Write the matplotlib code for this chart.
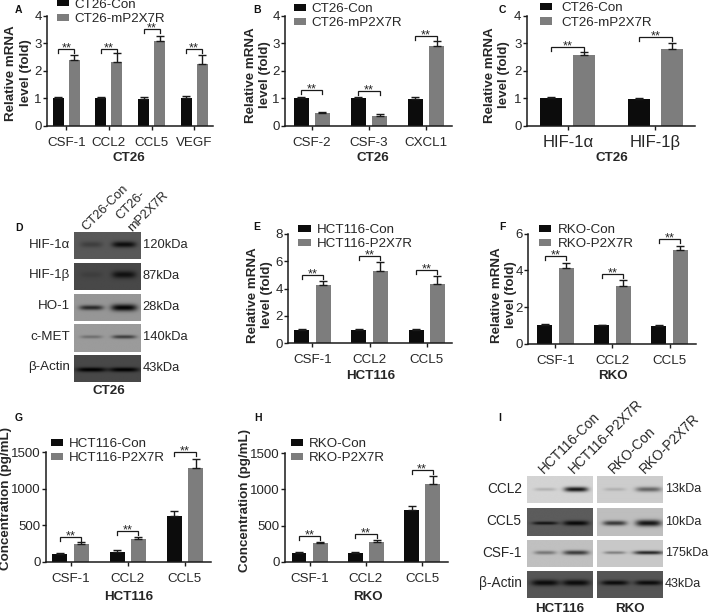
import numpy as np
import matplotlib
matplotlib.use("Agg")
import matplotlib.pyplot as plt

plt.rcParams['font.family'] = ['Liberation Sans', 'DejaVu Sans']
W, H = 709, 614
TXT = '#262626'
BLACK = '#0c0c0c'
GRAY = '#7d7d7d'

# ---- data ----
a_cats = ['CSF-1', 'CCL2', 'CCL5', 'VEGF']
a_con = [1.0, 1.0, 0.98, 1.0]
a_con_top = [1.05, 1.05, 1.03, 1.09]
a_trt = [2.38, 2.32, 3.1, 2.25]
a_trt_top = [2.58, 2.65, 3.28, 2.58]
a_brk = [2.79, 2.79, 3.51, 2.79]

b_cats = ['CSF-2', 'CSF-3', 'CXCL1']
b_con = [1.0, 1.0, 0.98]
b_con_top = [1.06, 1.06, 1.03]
b_trt = [0.45, 0.37, 2.9]
b_trt_top = [0.5, 0.41, 3.08]
b_brk = [1.29, 1.27, 3.26]

c_cats = ['HIF-1α', 'HIF-1β']
c_con = [1.0, 0.98]
c_con_top = [1.04, 1.02]
c_trt = [2.57, 2.8]
c_trt_top = [2.68, 3.02]
c_brk = [2.86, 3.23]

e_cats = ['CSF-1', 'CCL2', 'CCL5']
e_con = [1.0, 1.0, 0.98]
e_con_top = [1.06, 1.06, 1.03]
e_trt = [4.25, 5.3, 4.3]
e_trt_top = [4.55, 5.9, 4.9]
e_brk = [5.0, 6.37, 5.35]

f_cats = ['CSF-1', 'CCL2', 'CCL5']
f_con = [1.0, 1.0, 0.98]
f_con_top = [1.05, 1.03, 1.03]
f_trt = [4.15, 3.15, 5.1]
f_trt_top = [4.4, 3.5, 5.35]
f_brk = [4.78, 3.78, 5.69]

g_cats = ['CSF-1', 'CCL2', 'CCL5']
g_con = [110, 135, 625]
g_con_top = [120, 155, 690]
g_trt = [245, 315, 1280]
g_trt_top = [265, 335, 1410]
g_brk = [343, 417, 1504]

h_cats = ['CSF-1', 'CCL2', 'CCL5']
h_con = [120, 120, 715]
h_con_top = [130, 140, 770]
h_trt = [255, 270, 1070]
h_trt_top = [270, 300, 1185]
h_brk = [360, 387, 1268]

d_names = ['HIF-1α', 'HIF-1β', 'HO-1', 'c-MET', 'β-Actin']
d_kda = ['120kDa', '87kDa', '28kDa', '140kDa', '43kDa']
i_lanes = ['HCT116-Con', 'HCT116-P2X7R', 'RKO-Con', 'RKO-P2X7R']
i_names = ['CCL2', 'CCL5', 'CSF-1', 'β-Actin']
i_kda = ['13kDa', '10kDa', '175kDa', '43kDa']

fig = plt.figure(figsize=(W / 100, H / 100), dpi=100, facecolor='white')


def T(x, y, s, **kw):
    kw.setdefault('ha', 'center')
    kw.setdefault('va', 'center')
    kw.setdefault('color', TXT)
    return fig.text(x / W, 1 - y / H, s, **kw)


def panel(left, right, y0, ytop, ymax, yticks, c0, step, off, bw, cats, con, con_top, trt, trt_top, brk,
          leg, series, ylab, ylab_x, ylab_y, xlab, xlab_x, xlab_y, letter, lx, ly, tfs=9.6):
    ax = fig.add_axes([left / W, 1 - y0 / H, (right - left) / W, (y0 - ytop) / H])
    ax.patch.set_alpha(0)
    ax.set_xlim((left - c0) / step, (right - c0) / step)
    ax.set_ylim(0, ymax)
    x = np.arange(len(cats))
    d, w = off / step, bw / step
    ax.bar(x - d, con, w, color=BLACK, label=series[0])
    ax.bar(x + d, trt, w, color=GRAY, label=series[1])
    ek = dict(fmt='none', ecolor='#1a1a1a', elinewidth=1.0, capsize=2.9, capthick=1.0)
    ax.errorbar(x - d, con, yerr=[np.zeros(len(x)), np.array(con_top) - np.array(con)], **ek)
    ax.errorbar(x + d, trt, yerr=[np.zeros(len(x)), np.array(trt_top) - np.array(trt)], **ek)
    pxy = ymax / (y0 - ytop)
    for xi, b in zip(x, brk):
        ax.plot([xi - d, xi - d, xi + d, xi + d], [b - 4 * pxy, b, b, b - 4 * pxy], color='#1a1a1a', lw=0.9,
                clip_on=False, solid_joinstyle='miter')
        ax.text(xi, b - 2.5 * pxy, '**', ha='center', va='baseline', fontsize=9.3, color=TXT, clip_on=False)
    for s in ['top', 'right']:
        ax.spines[s].set_visible(False)
    for s in ['left', 'bottom']:
        ax.spines[s].set_linewidth(1.1)
        ax.spines[s].set_color('#1a1a1a')
    ax.set_xticks(x, cats, fontsize=tfs, color=TXT)
    ax.set_yticks(yticks, [str(t) for t in yticks], fontsize=9.5, color=TXT)
    ax.tick_params(axis='y', length=3, width=1.0, color='#1a1a1a', pad=0.8)
    ax.tick_params(axis='x', length=3, width=1.0, color='#1a1a1a', pad=5 - (tfs - 9.6) * 0.5)
    lg_x, lg_y, pad = leg
    ax.legend(loc='center left', bbox_to_anchor=(lg_x / W, 1 - lg_y / H), bbox_transform=fig.transFigure,
              frameon=False, fontsize=9.6, borderpad=0, borderaxespad=0, labelspacing=0.17,
              handlelength=0.92, handleheight=0.45, handletextpad=pad, labelcolor=TXT)
    T(ylab_x, ylab_y, ylab, rotation=90, fontsize=9.6, fontweight='bold', linespacing=1.25, multialignment='center')
    T(xlab_x, xlab_y, xlab, fontsize=9.6, fontweight='bold')
    T(lx, ly, letter, fontsize=7.5, fontweight='bold', color='#111111')
    return ax


RM = 'Relative mRNA\nlevel (fold)'
CC = 'Concentration (pg/mL)'
panel(47, 213, 125.5, 16, 4, [0, 1, 2, 3, 4], 66.3, 42.6, 8, 11, a_cats, a_con, a_con_top, a_trt, a_trt_top, a_brk,
      (56.7, 11.7, 0.43), ['CT26-Con', 'CT26-mP2X7R'], RM, 18.5, 73, 'CT26', 129, 158, 'A', 18, 10)
panel(285, 452, 125.7, 15.7, 4, [0, 1, 2, 3, 4], 311.7, 57.2, 10.7, 15, b_cats, b_con, b_con_top, b_trt, b_trt_top, b_brk,
      (293.7, 16.3, 0.38), ['CT26-Con', 'CT26-mP2X7R'], RM, 258, 75, 'CT26', 372.7, 158, 'B', 257, 10)
panel(526.7, 695, 126, 15.7, 4, [0, 1, 2, 3, 4], 567.8, 87.7, 16.5, 22, c_cats, c_con, c_con_top, c_trt, c_trt_top, c_brk,
      (540, 15.6, 0.7), ['CT26-Con', 'CT26-mP2X7R'], RM, 497, 75, 'CT26', 611.7, 158, 'C', 502, 10, tfs=12)
panel(288.3, 452.3, 343.3, 233.7, 8, [0, 2, 4, 6, 8], 312.3, 57.2, 10.7, 15, e_cats, e_con, e_con_top, e_trt, e_trt_top, e_brk,
      (298.3, 237.2, 0.45), ['HCT116-Con', 'HCT116-P2X7R'], RM, 260, 295, 'HCT116', 371, 376, 'E', 256.7, 227)
panel(528.3, 696, 343.7, 233.7, 6, [0, 2, 4, 6], 555.3, 57.2, 10.7, 15, f_cats, f_con, f_con_top, f_trt, f_trt_top, f_brk,
      (539, 237, 0.5), ['RKO-Con', 'RKO-P2X7R'], RM, 503.7, 295, 'RKO', 613, 376, 'F', 502, 227)
panel(46, 210.7, 561.7, 452.3, 1500, [0, 500, 1000, 1500], 70.5, 57.2, 10.7, 15, g_cats, g_con, g_con_top, g_trt, g_trt_top, g_brk,
      (50.7, 451, 0.47), ['HCT116-Con', 'HCT116-P2X7R'], CC, 6, 499, 'HCT116', 129, 596.7, 'G', 19, 418)
panel(285, 447.7, 561.7, 453.3, 1500, [0, 500, 1000, 1500], 309.7, 56.2, 10.6, 14.5, h_cats, h_con, h_con_top, h_trt, h_trt_top, h_brk,
      (290.7, 451, 0.47), ['RKO-Con', 'RKO-P2X7R'], CC, 245, 500.5, 'RKO', 367.7, 596.7, 'H', 257.7, 418)


def blot(x0, x1, y0, y1, bg, bands):
    """bands: (centre x px, half width px, centre y px, half height px, darkness 0-255)"""
    ax = fig.add_axes([x0 / W, 1 - y1 / H, (x1 - x0) / W, (y1 - y0) / H])
    xs = np.linspace(x0, x1, int(x1 - x0) * 2)
    ys = np.linspace(y0, y1, int(y1 - y0) * 2)
    X, Y = np.meshgrid(xs, ys)
    img = np.full(X.shape, float(bg))
    for cx, wx, cy, wy, dk in bands:
        img -= dk * np.exp(-((X - cx) / wx) ** 4) * np.exp(-((Y - cy) / wy) ** 2)
    ax.imshow(np.clip(img, 0, 255), cmap='gray', vmin=0, vmax=255, aspect='auto', interpolation='bilinear')
    ax.axis('off')


# panel D blots
rows_d = [(231.7, 259.3, 88, 245, [(90.7, 11, 20, 3, 25), (123.3, 12, 245, 3, 75)]),
          (262.7, 290, 72, 275, [(90.7, 11, 275, 3, 10), (123.3, 12, 275, 3.6, 55)]),
          (293.7, 321, 150, 308, [(90.7, 12, 308, 2.4, 110), (123.3, 13, 308, 3.4, 145)]),
          (324, 351.7, 155, 336.7, [(90.7, 11, 336.7, 1.6, 45), (123.3, 12, 336.7, 1.8, 95)]),
          (354.7, 382, 72, 370, [(90.7, 15, 370, 2.2, 72), (123.3, 15, 370, 2.2, 72)])]
for (y0, y1, bg, yc, bands), nm, kd in zip(rows_d, d_names, d_kda):
    blot(73.5, 140, y0, y1, bg, [(b[0], b[1], yc, b[3], b[4]) for b in bands])
    T(70, (y0 + y1) / 2 - 1, nm, ha='right', fontsize=9.6)
    T(142.7, (y0 + y1) / 2 - 0.5, kd, ha='left', fontsize=9.3)
T(84, 229, 'CT26-Con', rotation=45, rotation_mode='anchor', ha='left', va='center', fontsize=9.3)
T(118, 218, 'CT26-', rotation=45, rotation_mode='anchor', ha='left', va='center', fontsize=9.3)
T(130, 230, 'mP2X7R', rotation=45, rotation_mode='anchor', ha='left', va='center', fontsize=9.3)
T(109, 391, 'CT26', fontsize=9.6, fontweight='bold')
T(19, 227.7, 'D', fontsize=7.5, fontweight='bold', color='#111111')

# panel I blots
rows_i = [(476, 503.3, 490, (212, [(545, 11, 1.6, 35), (576, 12, 2.4, 190)]), (205, [(615, 11, 1.6, 30), (649, 13, 2.4, 105)])),
          (508.3, 536, 523.3, (92, [(545, 13, 1.6, 75), (576, 13, 2.4, 85)]), (190, [(615, 12, 2.4, 135), (649, 13, 3.2, 170)])),
          (540, 567.3, 553.3, (192, [(545, 11, 1.8, 75), (576, 13, 2.2, 135)]), (200, [(615, 11, 1.4, 75), (649, 15, 1.8, 165)])),
          (570.7, 598.3, 583.3, (85, [(545, 14, 3.0, 75), (576, 14, 3.0, 75)]), (85, [(615, 14, 2.4, 75), (649, 14, 2.4, 75)]))]
for (y0, y1, yc, p1, p2), nm, kd in zip(rows_i, i_names, i_kda):
    blot(527, 592.7, y0, y1, p1[0], [(b[0], b[1], yc, b[2], b[3]) for b in p1[1]])
    blot(597.3, 663.3, y0, y1, p2[0], [(b[0], b[1], yc, b[2], b[3]) for b in p2[1]])
    T(521.7, (y0 + y1) / 2 - 1, nm, ha='right', fontsize=9.8)
    T(665, (y0 + y1) / 2 - 0.5, kd, ha='left', fontsize=9)
for xs, lane in zip([541, 571, 611, 642], i_lanes):
    T(xs, 471, lane, rotation=45, rotation_mode='anchor', ha='left', va='center', fontsize=9.9)
T(560, 609, 'HCT116', fontsize=9.6, fontweight='bold')
T(630, 609, 'RKO', fontsize=9.6, fontweight='bold')
T(500, 418, 'I', fontsize=7.5, fontweight='bold', color='#111111')

fig.savefig('out.png', dpi=100)
